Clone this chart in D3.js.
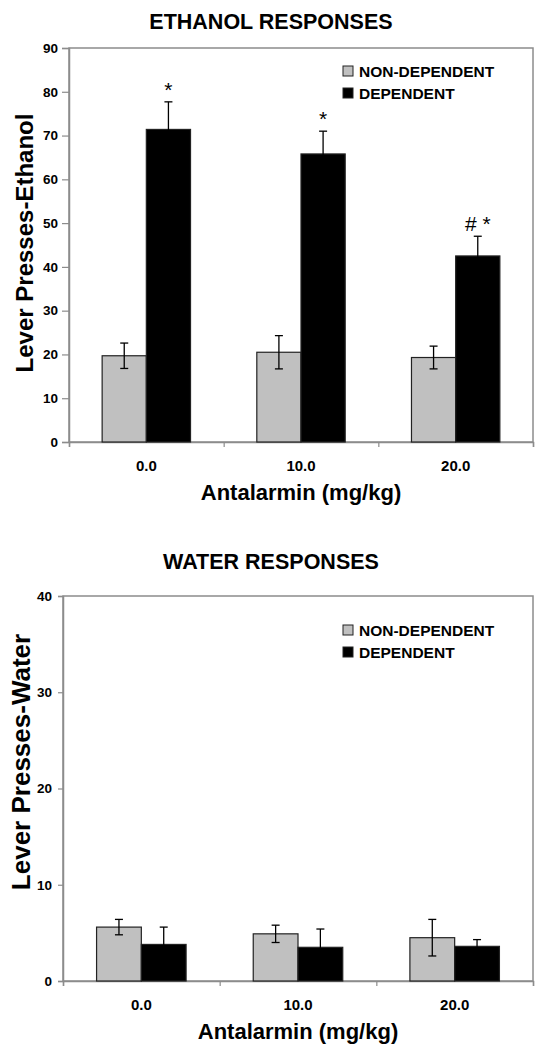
<!DOCTYPE html>
<html><head><meta charset="utf-8">
<script src="https://cdn.jsdelivr.net/npm/d3@7"></script>
<style>body{margin:0;background:#fff}svg{display:block}text{font-family:Arial,"Liberation Sans",sans-serif;font-weight:bold;fill:#000}</style>
</head><body>
<script>
const categories = ["0.0", "10.0", "20.0"];
const seriesNames = ["NON-DEPENDENT", "DEPENDENT"];
const ethanolNonDep = [19.7, 20.5, 19.3];
const ethanolNonDepErr = [2.9, 3.8, 2.6];
const ethanolDep = [71.4, 65.8, 42.5];
const ethanolDepErr = [6.3, 5.2, 4.5];
const ethanolMarks = ["*", "*", "# *"];
const ethanolTicks = [0, 10, 20, 30, 40, 50, 60, 70, 80, 90];
const waterNonDep = [5.6, 4.9, 4.5];
const waterNonDepErr = [0.8, 0.9, 1.9];
const waterDep = [3.8, 3.5, 3.6];
const waterDepErr = [1.8, 1.9, 0.7];
const waterMarks = ["", "", ""];
const waterTicks = [0, 10, 20, 30, 40];
const colors = ["#c0c0c0", "#000000"];

const svg = d3.select("body").append("svg").attr("width", 542).attr("height", 1050);

function panel(o) {
  const g = svg.append("g");
  const x = d3.scaleBand().domain(categories).range([o.left, o.right]);
  const y = d3.scaleLinear().domain([0, o.max]).range([o.bottom, o.top]);
  const bw = x.bandwidth() / 3.5;
  g.append("rect").attr("x", o.left).attr("y", o.top).attr("width", o.right - o.left)
    .attr("height", o.bottom - o.top).attr("fill", "none").attr("stroke", "#8c8c8c").attr("stroke-width", 1.5);
  const ya = d3.axisLeft(y).tickValues(o.ticks).tickSize(o.tick).tickPadding(o.pad).tickFormat(d3.format("d"));
  const yg = g.append("g").attr("transform", `translate(${o.left},0)`).call(ya);
  yg.select(".domain").attr("stroke", "#8c8c8c").attr("stroke-width", 1.5);
  yg.selectAll(".tick line").attr("stroke", "#8c8c8c").attr("stroke-width", 1.2);
  yg.selectAll("text").style("font-size", "13.5px").style("font-weight", "bold").attr("fill", "#000");
  const xb = d3.scaleLinear().domain([0, 3]).range([o.left, o.right]);
  const xa = d3.axisBottom(xb).tickValues([0, 1, 2, 3]).tickSize(5).tickFormat("");
  const xg = g.append("g").attr("transform", `translate(0,${o.bottom})`).call(xa);
  xg.select(".domain").attr("stroke", "#8c8c8c").attr("stroke-width", 1.5);
  xg.selectAll(".tick line").attr("stroke", "#8c8c8c").attr("stroke-width", 1.2);
  g.selectAll(".xl").data(categories).enter().append("text")
    .attr("x", d => x(d) + x.bandwidth() / 2).attr("y", o.bottom + 29)
    .attr("text-anchor", "middle").style("font-size", "15px").text(d => d);
  const series = [o.s0, o.s1];
  const errs = [o.e0, o.e1];
  series.forEach((vals, si) => {
    const cx = (i) => x(categories[i]) + x.bandwidth() / 2 - bw + si * bw;
    g.selectAll(".b" + si).data(vals).enter().append("rect")
      .attr("x", (d, i) => cx(i)).attr("width", bw)
      .attr("y", d => y(d)).attr("height", d => o.bottom - y(d))
      .attr("fill", colors[si]).attr("stroke", "#222").attr("stroke-width", 1.2);
    vals.forEach((v, i) => {
      const mx = cx(i) + bw / 2, e = errs[si][i];
      g.append("line").attr("x1", mx).attr("x2", mx).attr("y1", y(v + e)).attr("y2", y(v - e))
        .attr("stroke", "#000").attr("stroke-width", 1.3);
      g.append("line").attr("x1", mx - 4).attr("x2", mx + 4).attr("y1", y(v + e)).attr("y2", y(v + e))
        .attr("stroke", "#000").attr("stroke-width", 1.3);
      if (si === 0) g.append("line").attr("x1", mx - 4).attr("x2", mx + 4).attr("y1", y(v - e)).attr("y2", y(v - e))
        .attr("stroke", "#000").attr("stroke-width", 1.3);
      if (si === 1 && o.marks[i]) g.append("text").attr("x", mx).attr("y", y(v + e) - 5)
        .attr("text-anchor", "middle").style("font-size", "21px").style("font-weight", "normal").text(o.marks[i]);
    });
  });
  seriesNames.forEach((n, i) => {
    const ly = o.legendY + i * 22;
    g.append("rect").attr("x", 343).attr("y", ly).attr("width", 10).attr("height", 10)
      .attr("fill", colors[i]).attr("stroke", "#222").attr("stroke-width", 1);
    g.append("text").attr("x", 359).attr("y", ly + 10.5).style("font-size", "15.5px").text(n);
  });
  g.append("text").attr("x", 271).attr("y", o.titleY).attr("text-anchor", "middle")
    .style("font-size", "21.5px").text(o.title);
  g.append("text").attr("x", (o.left + o.right) / 2).attr("y", o.bottom + 58).attr("text-anchor", "middle")
    .style("font-size", "22px").text("Antalarmin (mg/kg)");
  g.append("text").attr("transform", `translate(${o.ylabX},${o.ylabY}) rotate(-90)`)
    .attr("text-anchor", "middle").style("font-size", o.ylabSize + "px").text(o.ylab);
}

panel({left: 69, right: 533, top: 48, bottom: 442, max: 90, ticks: ethanolTicks, tick: 7, pad: 4,
  s0: ethanolNonDep, e0: ethanolNonDepErr, s1: ethanolDep, e1: ethanolDepErr, marks: ethanolMarks,
  legendY: 66, titleY: 29, title: "ETHANOL RESPONSES", ylab: "Lever Presses-Ethanol", ylabX: 33, ylabY: 243, ylabSize: 24});
panel({left: 63, right: 533, top: 596, bottom: 981, max: 40, ticks: waterTicks, tick: 5, pad: 6,
  s0: waterNonDep, e0: waterNonDepErr, s1: waterDep, e1: waterDepErr, marks: waterMarks,
  legendY: 625, titleY: 569, title: "WATER RESPONSES", ylab: "Lever Presses-Water", ylabX: 30, ylabY: 762, ylabSize: 26});
</script>
</body></html>
